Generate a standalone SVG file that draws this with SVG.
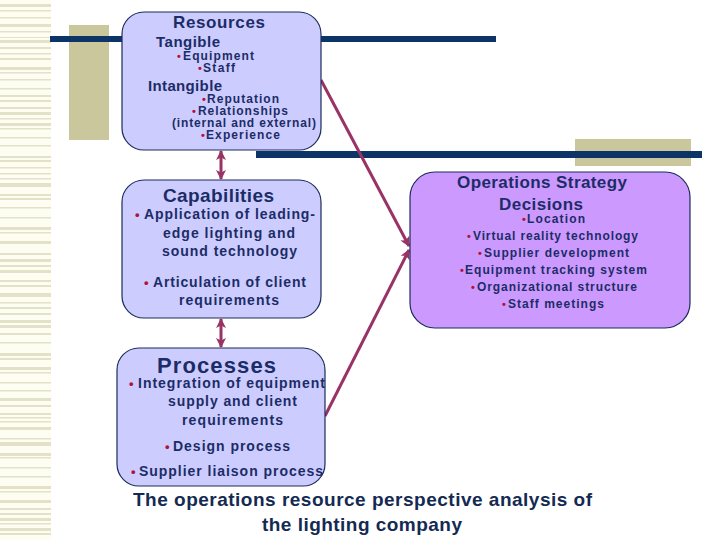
<svg xmlns="http://www.w3.org/2000/svg" width="720" height="540" viewBox="0 0 720 540">
  <defs>
    <style>
      text { font-family: "Liberation Sans", Arial, sans-serif; font-weight: bold; fill: #1c2c66; }
      .box { fill: #ccccff; stroke: #1c2c5a; stroke-width: 1.2; }
      .ops { fill: #cc99ff; stroke: #1c2c5a; stroke-width: 1.2; }
      .b { fill: #b0123c; font-weight: bold; }
      .stripe { fill: #e3e1c8; }
      .navy { fill: #0d3466; }
      .olive { fill: #c9c79b; }
      .conn { stroke: #993366; stroke-width: 3; fill: none; }
      .t12 { font-size: 12px; }
      .t14 { font-size: 14px; }
      .t15 { font-size: 15px; }
      .cap { fill: #142a52; font-size: 19px; }
    </style>
    <marker id="ah" viewBox="0 0 10 10" refX="9" refY="5" markerUnits="userSpaceOnUse" markerWidth="10" markerHeight="10" orient="auto-start-reverse">
      <path d="M0,0 L10,5 L0,10 L2.5,5 z" fill="#993366"/>
    </marker>
  </defs>

  <rect width="720" height="540" fill="#ffffff"/>

  <!-- left decorative stripes -->
  <g id="stripes">
    <rect x="0" y="0" width="51" height="540" fill="#fdfdf2"/>
    <rect class="stripe" x="0" y="4" width="51" height="3"/>
    <rect class="stripe" x="0" y="10" width="51" height="1.5"/>
    <rect class="stripe" x="0" y="17" width="51" height="1.5"/>
    <rect class="stripe" x="0" y="24" width="51" height="3"/>
    <rect class="stripe" x="0" y="31" width="51" height="1.5"/>
    <rect class="stripe" x="0" y="37" width="51" height="1"/>
    <rect class="stripe" x="0" y="40" width="51" height="3"/>
    <rect class="stripe" x="0" y="47" width="51" height="2"/>
    <rect class="stripe" x="0" y="53" width="51" height="1.5"/>
    <rect class="stripe" x="0" y="58" width="51" height="2"/>
    <rect class="stripe" x="0" y="67" width="51" height="3"/>
    <rect class="stripe" x="0" y="72" width="51" height="1.5"/>
    <rect class="stripe" x="0" y="79" width="51" height="1.5"/>
    <rect class="stripe" x="0" y="88" width="51" height="1.5"/>
    <rect class="stripe" x="0" y="95" width="51" height="2"/>
    <rect class="stripe" x="0" y="100" width="51" height="2"/>
    <rect class="stripe" x="0" y="107" width="51" height="2"/>
    <rect class="stripe" x="0" y="112" width="51" height="3"/>
    <rect class="stripe" x="0" y="118" width="51" height="1.5"/>
    <rect class="stripe" x="0" y="123" width="51" height="3"/>
    <rect class="stripe" x="0" y="128" width="51" height="1.5"/>
    <rect class="stripe" x="0" y="137" width="51" height="1.5"/>
    <rect class="stripe" x="0" y="145" width="51" height="1.5"/>
    <rect class="stripe" x="0" y="156" width="51" height="2"/>
    <rect class="stripe" x="0" y="160" width="51" height="2"/>
    <rect class="stripe" x="0" y="167" width="51" height="1.5"/>
    <rect class="stripe" x="0" y="173" width="51" height="1.5"/>
    <rect class="stripe" x="0" y="178" width="51" height="1.5"/>
    <rect class="stripe" x="0" y="183" width="51" height="4"/>
    <rect class="stripe" x="0" y="194" width="51" height="2"/>
    <rect class="stripe" x="0" y="198" width="51" height="2"/>
    <rect class="stripe" x="0" y="207" width="51" height="1.5"/>
    <rect class="stripe" x="0" y="217" width="51" height="1.5"/>
    <rect class="stripe" x="0" y="227" width="51" height="3"/>
    <rect class="stripe" x="0" y="232" width="51" height="1.5"/>
    <rect class="stripe" x="0" y="241" width="51" height="3"/>
    <rect class="stripe" x="0" y="253" width="51" height="2"/>
    <rect class="stripe" x="0" y="259" width="51" height="3"/>
    <rect class="stripe" x="0" y="265" width="51" height="2"/>
    <rect class="stripe" x="0" y="270" width="51" height="3"/>
    <rect class="stripe" x="0" y="280" width="51" height="2"/>
    <rect class="stripe" x="0" y="285" width="51" height="2"/>
    <rect class="stripe" x="0" y="293" width="51" height="4"/>
    <rect class="stripe" x="0" y="302" width="51" height="1.5"/>
    <rect class="stripe" x="0" y="307" width="51" height="2"/>
    <rect class="stripe" x="0" y="313" width="51" height="2"/>
    <rect class="stripe" x="0" y="320" width="51" height="3"/>
    <rect class="stripe" x="0" y="325" width="51" height="3"/>
    <rect class="stripe" x="0" y="333" width="51" height="2"/>
    <rect class="stripe" x="0" y="342" width="51" height="1.5"/>
    <rect class="stripe" x="0" y="353" width="51" height="3"/>
    <rect class="stripe" x="0" y="358" width="51" height="2"/>
    <rect class="stripe" x="0" y="367" width="51" height="3"/>
    <rect class="stripe" x="0" y="372" width="51" height="1.5"/>
    <rect class="stripe" x="0" y="382" width="51" height="1.5"/>
    <rect class="stripe" x="0" y="390" width="51" height="1.5"/>
    <rect class="stripe" x="0" y="398" width="51" height="3"/>
    <rect class="stripe" x="0" y="405" width="51" height="2"/>
    <rect class="stripe" x="0" y="413" width="51" height="2"/>
    <rect class="stripe" x="0" y="417" width="51" height="1.5"/>
    <rect class="stripe" x="0" y="421" width="51" height="1.5"/>
    <rect class="stripe" x="0" y="427" width="51" height="3"/>
    <rect class="stripe" x="0" y="438" width="51" height="1.5"/>
    <rect class="stripe" x="0" y="442" width="51" height="4"/>
    <rect class="stripe" x="0" y="453" width="51" height="3"/>
    <rect class="stripe" x="0" y="457" width="51" height="1.5"/>
    <rect class="stripe" x="0" y="467" width="51" height="1.5"/>
    <rect class="stripe" x="0" y="476" width="51" height="1.5"/>
    <rect class="stripe" x="0" y="486" width="51" height="3"/>
    <rect class="stripe" x="0" y="491" width="51" height="1.5"/>
    <rect class="stripe" x="0" y="500" width="51" height="3"/>
    <rect class="stripe" x="0" y="508" width="51" height="2"/>
    <rect class="stripe" x="0" y="513" width="51" height="2"/>
    <rect class="stripe" x="0" y="518" width="51" height="3"/>
    <rect class="stripe" x="0" y="523" width="51" height="1.5"/>
    <rect class="stripe" x="0" y="528" width="51" height="3"/>
    <rect class="stripe" x="0" y="533" width="51" height="2"/>
  </g>

  <!-- decorative bars -->
  <g id="decor">
    <rect class="olive" x="69" y="25" width="40" height="115"/>
    <rect class="navy" x="50" y="36" width="446" height="6"/>
    <rect class="olive" x="575" y="139" width="116" height="27"/>
    <rect class="navy" x="256" y="151" width="446" height="7"/>
  </g>

  <!-- connectors -->
  <g id="connectors">
    <line class="conn" x1="221" y1="151" x2="221" y2="179" marker-start="url(#ah)" marker-end="url(#ah)"/>
    <line class="conn" x1="221" y1="319" x2="221" y2="347" marker-start="url(#ah)" marker-end="url(#ah)"/>
    <line class="conn" x1="321" y1="80" x2="409" y2="246" marker-end="url(#ah)"/>
    <line class="conn" x1="325" y1="416" x2="409" y2="250" marker-end="url(#ah)"/>
  </g>

  <!-- Resources -->
  <g id="resources">
    <rect class="box" x="122" y="12" width="199" height="138" rx="22" ry="22"/>
    <text x="219" y="28" font-size="17" text-anchor="middle" textLength="92" lengthAdjust="spacing">Resources</text>
    <text class="t15" x="156" y="47" textLength="64" lengthAdjust="spacing">Tangible</text>
    <text class="b" x="177" y="60" font-size="11">•</text>
    <text class="t12" x="183" y="60" textLength="71" lengthAdjust="spacing">Equipment</text>
    <text class="b" x="198" y="72" font-size="11">•</text>
    <text class="t12" x="203" y="72" textLength="32" lengthAdjust="spacing">Staff</text>
    <text class="t15" x="148" y="91" textLength="74" lengthAdjust="spacing">Intangible</text>
    <text class="b" x="202" y="103" font-size="11">•</text>
    <text class="t12" x="207" y="103" textLength="72" lengthAdjust="spacing">Reputation</text>
    <text class="b" x="192" y="115" font-size="11">•</text>
    <text class="t12" x="198" y="115" textLength="90" lengthAdjust="spacing">Relationships</text>
    <text class="t12" x="172" y="127" textLength="144" lengthAdjust="spacing">(internal and external)</text>
    <text class="b" x="201" y="139" font-size="11">•</text>
    <text class="t12" x="206" y="139" textLength="74" lengthAdjust="spacing">Experience</text>
  </g>

  <!-- Capabilities -->
  <g id="capabilities">
    <rect class="box" x="122" y="180" width="199" height="138" rx="22" ry="22"/>
    <text x="218.5" y="202" font-size="19" text-anchor="middle" textLength="111" lengthAdjust="spacing">Capabilities</text>
    <text class="b" x="135" y="219" font-size="13">•</text>
    <text class="t14" x="144" y="219" textLength="171" lengthAdjust="spacing">Application of leading-</text>
    <text class="t14" x="163" y="238" textLength="132" lengthAdjust="spacing">edge lighting and</text>
    <text class="t14" x="162" y="256" textLength="135" lengthAdjust="spacing">sound technology</text>
    <text class="b" x="144" y="287" font-size="13">•</text>
    <text class="t14" x="153" y="287" textLength="153" lengthAdjust="spacing">Articulation of client</text>
    <text class="t14" x="179" y="305" textLength="100" lengthAdjust="spacing">requirements</text>
  </g>

  <!-- Processes -->
  <g id="processes">
    <rect class="box" x="117" y="348" width="208" height="138" rx="22" ry="22"/>
    <text x="157" y="373" font-size="22" textLength="119" lengthAdjust="spacing">Processes</text>
    <text class="b" x="129" y="388" font-size="13">•</text>
    <text class="t14" x="138" y="388" textLength="187" lengthAdjust="spacing">Integration of equipment</text>
    <text class="t14" x="168" y="406" textLength="129" lengthAdjust="spacing">supply and client</text>
    <text class="t14" x="182" y="425" textLength="101" lengthAdjust="spacing">requirements</text>
    <text class="b" x="165" y="451" font-size="13">•</text>
    <text class="t14" x="173" y="451" textLength="117" lengthAdjust="spacing">Design process</text>
    <text class="b" x="131" y="476" font-size="13">•</text>
    <text class="t14" x="139" y="476" textLength="184" lengthAdjust="spacing">Supplier liaison process</text>
  </g>

  <!-- Operations Strategy Decisions -->
  <g id="ops">
    <rect class="ops" x="410" y="172" width="280" height="156" rx="25" ry="25"/>
    <text x="457" y="188" font-size="17" textLength="170" lengthAdjust="spacing">Operations Strategy</text>
    <text x="499" y="210" font-size="17" textLength="84" lengthAdjust="spacing">Decisions</text>
    <text class="b" x="522" y="223" font-size="11">•</text>
    <text class="t12" x="527" y="223" textLength="58" lengthAdjust="spacing">Location</text>
    <text class="b" x="467" y="240" font-size="11">•</text>
    <text class="t12" x="473" y="240" textLength="165" lengthAdjust="spacing">Virtual reality technology</text>
    <text class="b" x="478" y="257" font-size="11">•</text>
    <text class="t12" x="484" y="257" textLength="145" lengthAdjust="spacing">Supplier development</text>
    <text class="b" x="460" y="274" font-size="11">•</text>
    <text class="t12" x="465" y="274" textLength="182" lengthAdjust="spacing">Equipment tracking system</text>
    <text class="b" x="471" y="291" font-size="11">•</text>
    <text class="t12" x="477" y="291" textLength="160" lengthAdjust="spacing">Organizational structure</text>
    <text class="b" x="502" y="308" font-size="11">•</text>
    <text class="t12" x="508" y="308" textLength="96" lengthAdjust="spacing">Staff meetings</text>
  </g>

  <!-- caption -->
  <g id="caption">
    <text class="cap" x="133" y="506" textLength="459" lengthAdjust="spacing">The operations resource perspective analysis of</text>
    <text class="cap" x="262" y="531" textLength="200" lengthAdjust="spacing">the lighting company</text>
  </g>
</svg>
